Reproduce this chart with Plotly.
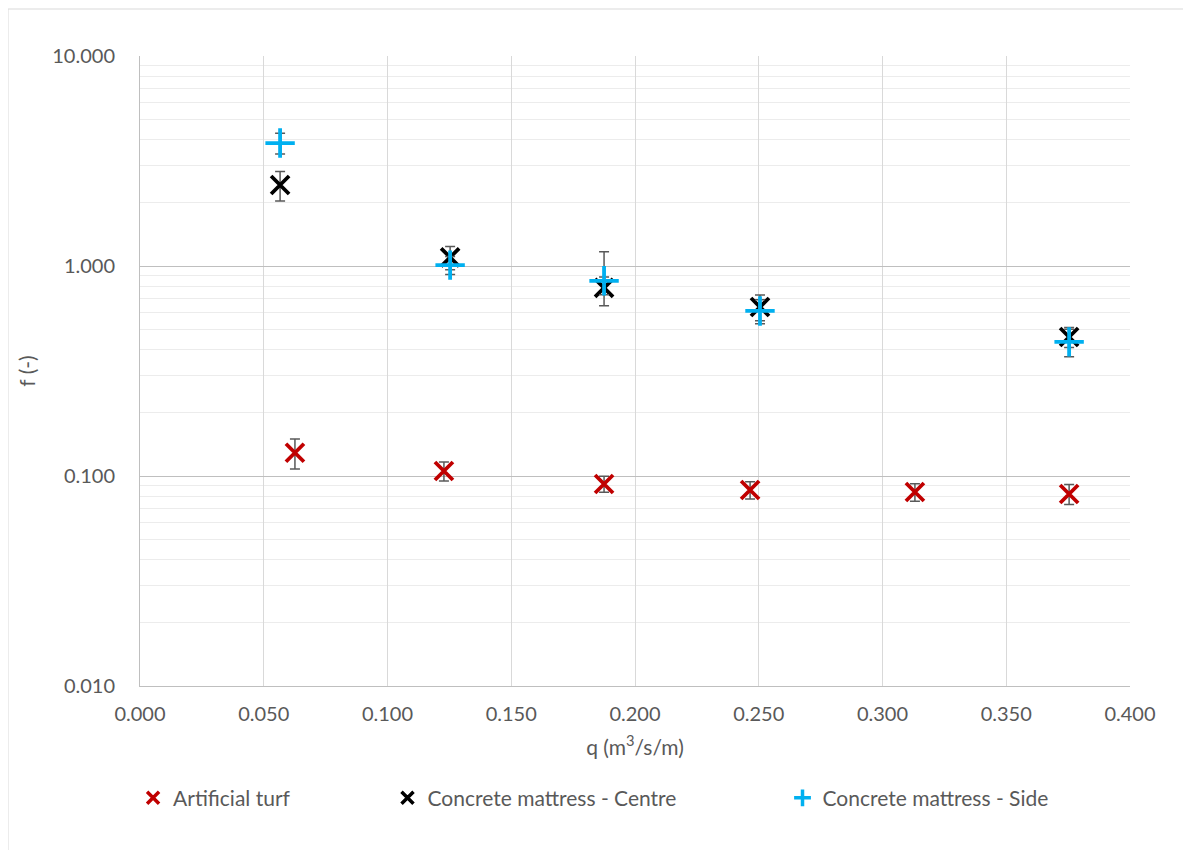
import plotly.graph_objects as go

# Data
turf_q = [0.0626, 0.1228, 0.1875, 0.2465, 0.3131, 0.3754]
turf_f = [0.129, 0.1056, 0.0916, 0.0858, 0.0839, 0.0821]
turf_err = [0.021, 0.011, 0.008, 0.008, 0.008, 0.009]

centre_q = [0.0566, 0.1253, 0.1875, 0.2505, 0.3754]
centre_f = [2.43, 1.10, 0.786, 0.638, 0.459]
centre_err_plus = [0.39, 0.14, 0.10, 0.09, 0.05]
centre_err_minus = [0.39, 0.14, 0.14, 0.09, 0.05]

side_q = [0.0566, 0.1253, 0.1875, 0.2505, 0.3754]
side_f = [3.85, 1.01, 0.85, 0.611, 0.435]
side_err_plus = [0.44, 0.10, 0.32, 0.08, 0.065]
side_err_minus = [0.44, 0.10, 0.12, 0.08, 0.065]

x_ticks = [0.0, 0.05, 0.1, 0.15, 0.2, 0.25, 0.3, 0.35, 0.4]
y_ticks = [0.01, 0.1, 1, 10]
y_minor = [m * d for d in (0.01, 0.1, 1) for m in range(2, 10)]

names = ["Artificial turf", "Concrete mattress - Centre", "Concrete mattress - Side"]
colors = ["#C00000", "#000000", "#00B0F0"]
symbols = ["x-thin", "x-thin", "cross-thin"]

FONT = "Lato, Carlito, Calibri, sans-serif"
TXT = "#595959"
err_style = dict(type="data", color="#595959", thickness=1.5, width=5)

fig = go.Figure()
fig.add_trace(go.Scatter(
    x=turf_q, y=turf_f, mode="markers", name=names[0], showlegend=False,
    marker=dict(symbol=symbols[0], size=18, color=colors[0],
                line=dict(color=colors[0], width=3.8)),
    error_y=dict(array=turf_err, symmetric=True, **err_style)))
fig.add_trace(go.Scatter(
    x=centre_q, y=centre_f, mode="markers", name=names[1], showlegend=False,
    marker=dict(symbol=symbols[1], size=18, color=colors[1],
                line=dict(color=colors[1], width=3.8)),
    error_y=dict(array=centre_err_plus, arrayminus=centre_err_minus, symmetric=False, **err_style)))
fig.add_trace(go.Scatter(
    x=side_q, y=side_f, mode="markers", name=names[2], showlegend=False,
    marker=dict(symbol=symbols[2], size=21, color=colors[2],
                line=dict(color=colors[2], width=3.8)),
    error_y=dict(array=side_err_plus, arrayminus=side_err_minus, symmetric=False, **err_style)))

# legend-only entries (smaller, bold markers like the reference legend)
for i, lg in enumerate(["legend", "legend2", "legend3"]):
    fig.add_trace(go.Scatter(
        x=[None], y=[None], mode="markers", name=names[i], legend=lg,
        marker=dict(symbol=symbols[i], size=12, color=colors[i],
                    line=dict(color=colors[i], width=3.5))))

leg_common = dict(orientation="h", yanchor="middle", y=-0.178, xanchor="left",
                  font=dict(family=FONT, size=21, color=TXT),
                  bgcolor="rgba(0,0,0,0)", itemwidth=30)

fig.update_layout(
    width=1191, height=850,
    margin=dict(l=132, r=69, t=48, b=172),
    paper_bgcolor="white", plot_bgcolor="white",
    font=dict(family=FONT, color=TXT, size=20),
    showlegend=True,
    legend=dict(x=-0.007, **leg_common),
    legend2=dict(x=0.250, **leg_common),
    legend3=dict(x=0.649, **leg_common),
    xaxis=dict(range=[0, 0.4], tickvals=x_ticks, tickformat=".3f",
               showgrid=True, gridcolor="#d9d9d9", gridwidth=1.3,
               showline=True, linecolor="#bfbfbf", linewidth=1,
               zeroline=False, ticks="", ticklabelstandoff=10,
               tickfont=dict(size=20, color=TXT),
               title=dict(text="q (m<sup>3</sup>/s/m)", font=dict(size=21, color=TXT), standoff=16)),
    yaxis=dict(type="log", range=[-2, 1], tickvals=y_ticks, tickformat=".3f",
               showgrid=True, gridcolor="#bfbfbf", gridwidth=1.3,
               showline=True, linecolor="#bfbfbf", linewidth=1,
               zeroline=False, ticks="", ticklabelstandoff=20,
               tickfont=dict(size=20, color=TXT),
               minor=dict(tickvals=y_minor, showgrid=True, gridcolor="#ececec", gridwidth=1, ticks=""),
               title=dict(text="f (-)", font=dict(size=21, color=TXT), standoff=10)),
    shapes=[dict(type="rect", xref="paper", yref="paper",
                 x0=-132/990, x1=1+57/990, y0=-1.3, y1=1+47/630,
                 line=dict(color="#d9d9d9", width=1), fillcolor="rgba(0,0,0,0)", layer="below")],
)

fig.write_html("out.html")
